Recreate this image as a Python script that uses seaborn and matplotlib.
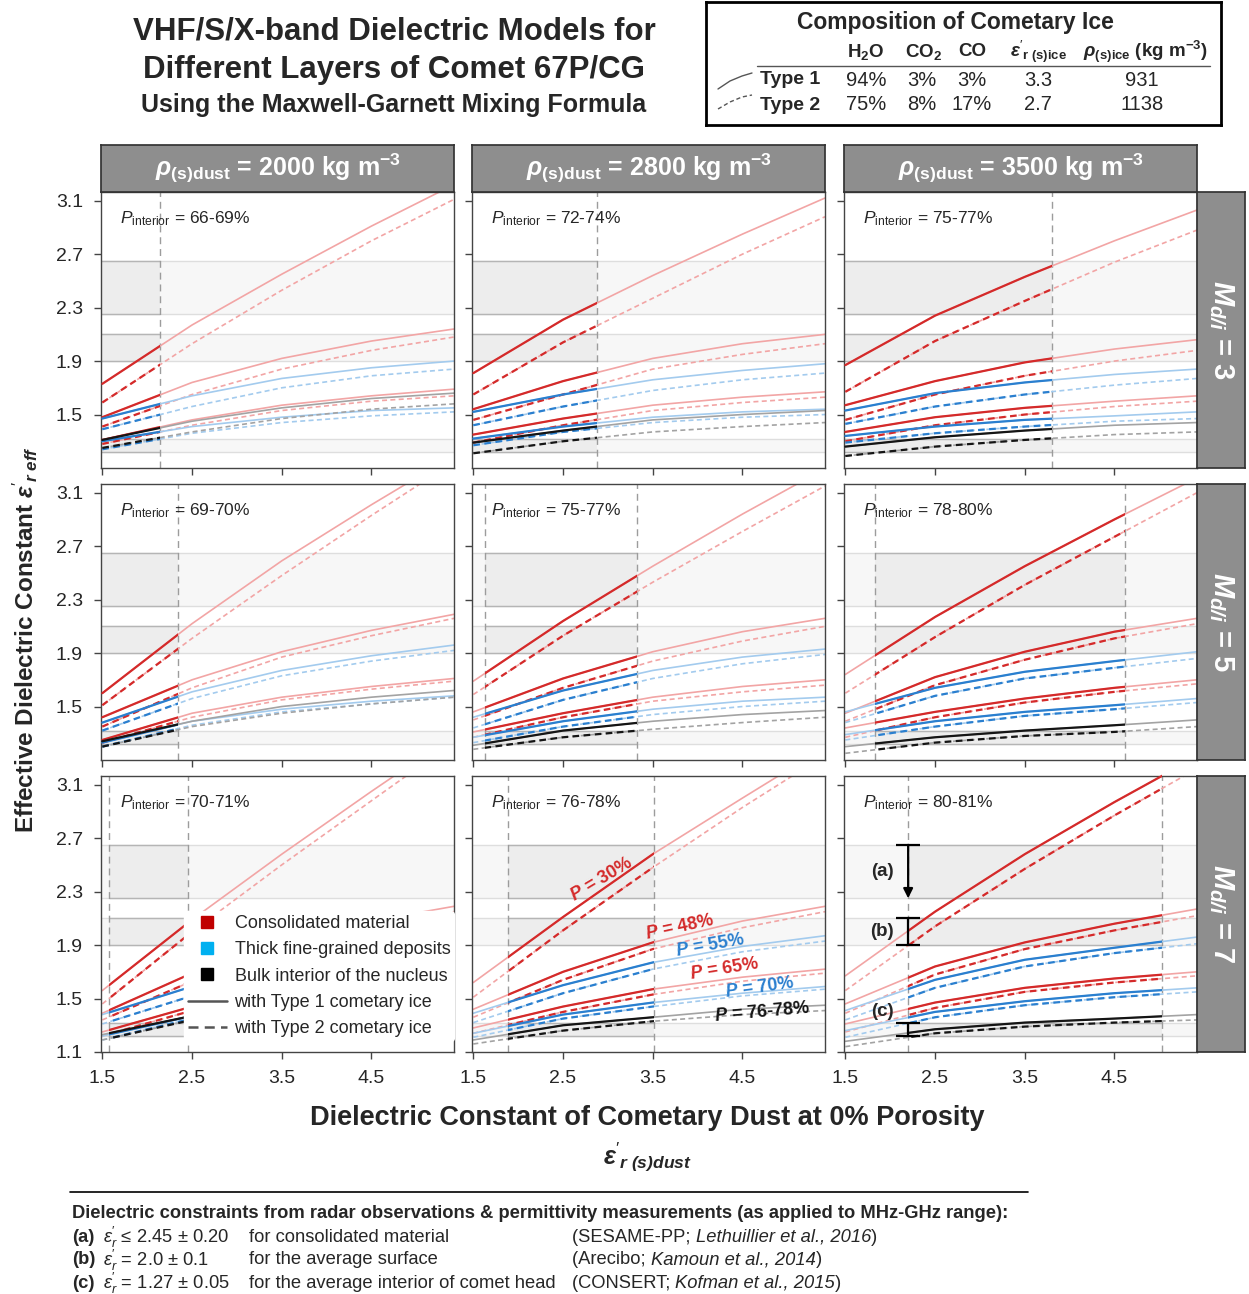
import matplotlib.pyplot as plt
import pandas as pd
import seaborn as sns
from matplotlib.lines import Line2D
from matplotlib.patches import Rectangle

# ---------------- values ----------------
x_dust = [1.5, 2.5, 3.5, 4.5, 5.42]
porosity = ["30", "48", "55", "65", "70", "int"]
ice_types = ["Type 1", "Type 2"]
rho_dust = [2000, 2800, 3500]
mass_ratio = [3, 5, 7]
p_interior = [["66-69%", "72-74%", "75-77%"],
              ["69-70%", "75-77%", "78-80%"],
              ["70-71%", "76-78%", "80-81%"]]
# dust permittivity range allowed in each panel (dashed verticals)
range_lo = [[None, None, None], [None, 1.63, 1.83], [1.57, 1.89, 2.20]]
range_hi = [[2.14, 2.88, 3.80], [2.34, 3.32, 4.62], [2.46, 3.51, 5.03]]

constraint_label = ["(a)", "(b)", "(c)"]
constraint_val = [2.45, 2.0, 1.27]
constraint_err = [0.20, 0.10, 0.05]

# effective permittivity, one row per porosity (30, 48, 55, 65, 70, interior)
t1_m3_r2000 = [[1.73, 2.17, 2.55, 2.91, 3.22], [1.48, 1.74, 1.92, 2.05, 2.14],
               [1.47, 1.64, 1.77, 1.85, 1.90], [1.31, 1.46, 1.57, 1.64, 1.69],
               [1.30, 1.41, 1.48, 1.53, 1.55], [1.31, 1.45, 1.55, 1.62, 1.66]]
t2_m3_r2000 = [[1.59, 2.03, 2.43, 2.80, 3.11], [1.41, 1.65, 1.84, 1.98, 2.08],
               [1.39, 1.56, 1.70, 1.79, 1.84], [1.28, 1.42, 1.53, 1.60, 1.64],
               [1.24, 1.36, 1.44, 1.49, 1.52], [1.25, 1.37, 1.47, 1.54, 1.58]]
t1_m3_r2800 = [[1.81, 2.21, 2.54, 2.85, 3.12], [1.54, 1.75, 1.92, 2.03, 2.10],
               [1.52, 1.65, 1.76, 1.83, 1.88], [1.35, 1.47, 1.57, 1.63, 1.67],
               [1.32, 1.41, 1.48, 1.52, 1.54], [1.29, 1.38, 1.46, 1.50, 1.53]]
t2_m3_r2800 = [[1.65, 2.04, 2.37, 2.70, 2.98], [1.46, 1.65, 1.84, 1.95, 2.03],
               [1.42, 1.56, 1.68, 1.76, 1.81], [1.29, 1.42, 1.53, 1.59, 1.63],
               [1.27, 1.37, 1.44, 1.48, 1.50], [1.21, 1.30, 1.37, 1.41, 1.44]]
t1_m3_r3500 = [[1.87, 2.24, 2.53, 2.80, 3.03], [1.57, 1.75, 1.89, 1.99, 2.06],
               [1.53, 1.66, 1.74, 1.80, 1.84], [1.37, 1.48, 1.55, 1.60, 1.64],
               [1.34, 1.41, 1.46, 1.49, 1.52], [1.26, 1.33, 1.38, 1.42, 1.44]]
t2_m3_r3500 = [[1.67, 2.05, 2.35, 2.64, 2.88], [1.46, 1.65, 1.79, 1.90, 1.98],
               [1.43, 1.56, 1.65, 1.72, 1.77], [1.30, 1.42, 1.50, 1.56, 1.60],
               [1.29, 1.36, 1.41, 1.45, 1.47], [1.19, 1.26, 1.31, 1.35, 1.37]]

t1_m5_r2000 = [[1.60, 2.12, 2.59, 3.01, 3.38], [1.42, 1.70, 1.91, 2.07, 2.19],
               [1.38, 1.61, 1.77, 1.88, 1.96], [1.25, 1.45, 1.57, 1.65, 1.71],
               [1.23, 1.39, 1.48, 1.54, 1.58], [1.24, 1.39, 1.50, 1.57, 1.62]]
t2_m5_r2000 = [[1.51, 2.01, 2.48, 2.93, 3.33], [1.35, 1.64, 1.87, 2.03, 2.16],
               [1.32, 1.56, 1.73, 1.84, 1.92], [1.23, 1.42, 1.55, 1.63, 1.69],
               [1.20, 1.36, 1.46, 1.52, 1.57], [1.20, 1.35, 1.45, 1.52, 1.57]]
t1_m5_r2800 = [[1.69, 2.14, 2.55, 2.94, 3.28], [1.46, 1.71, 1.91, 2.06, 2.16],
               [1.42, 1.62, 1.77, 1.87, 1.93], [1.31, 1.45, 1.57, 1.65, 1.70],
               [1.27, 1.39, 1.48, 1.54, 1.57], [1.21, 1.32, 1.39, 1.44, 1.47]]
t2_m5_r2800 = [[1.59, 2.03, 2.43, 2.81, 3.15], [1.40, 1.64, 1.84, 1.99, 2.10],
               [1.34, 1.55, 1.71, 1.82, 1.89], [1.27, 1.42, 1.54, 1.61, 1.66],
               [1.23, 1.35, 1.44, 1.50, 1.54], [1.18, 1.27, 1.33, 1.38, 1.42]]
t1_m5_r3500 = [[1.74, 2.17, 2.55, 2.90, 3.21], [1.45, 1.72, 1.91, 2.06, 2.16],
               [1.46, 1.64, 1.76, 1.84, 1.91], [1.34, 1.46, 1.56, 1.64, 1.70],
               [1.29, 1.39, 1.46, 1.51, 1.56], [1.20, 1.27, 1.32, 1.36, 1.40]]
t2_m5_r3500 = [[1.60, 2.02, 2.41, 2.77, 3.10], [1.39, 1.66, 1.85, 2.01, 2.12],
               [1.38, 1.58, 1.71, 1.79, 1.86], [1.27, 1.42, 1.53, 1.61, 1.67],
               [1.25, 1.35, 1.43, 1.48, 1.53], [1.15, 1.23, 1.28, 1.31, 1.35]]

t1_m7_r2000 = [[1.56, 2.09, 2.58, 3.05, 3.47], [1.39, 1.69, 1.92, 2.08, 2.19],
               [1.38, 1.59, 1.78, 1.90, 1.98], [1.25, 1.44, 1.58, 1.67, 1.73],
               [1.22, 1.37, 1.48, 1.55, 1.59], [1.23, 1.37, 1.50, 1.58, 1.63]]
t2_m7_r2000 = [[1.46, 2.00, 2.50, 2.98, 3.42], [1.34, 1.63, 1.87, 2.04, 2.15],
               [1.31, 1.52, 1.74, 1.87, 1.95], [1.22, 1.41, 1.55, 1.64, 1.70],
               [1.19, 1.35, 1.46, 1.53, 1.57], [1.19, 1.34, 1.46, 1.53, 1.58]]
t1_m7_r2800 = [[1.62, 2.11, 2.58, 3.00, 3.38], [1.42, 1.70, 1.92, 2.08, 2.19],
               [1.39, 1.60, 1.77, 1.89, 1.97], [1.28, 1.44, 1.57, 1.66, 1.72],
               [1.24, 1.38, 1.47, 1.54, 1.59], [1.19, 1.30, 1.36, 1.42, 1.45]]
t2_m7_r2800 = [[1.51, 2.01, 2.48, 2.93, 3.32], [1.36, 1.64, 1.87, 2.03, 2.15],
               [1.32, 1.54, 1.72, 1.85, 1.93], [1.24, 1.40, 1.53, 1.63, 1.69],
               [1.21, 1.35, 1.44, 1.52, 1.57], [1.16, 1.26, 1.33, 1.38, 1.41]]
t1_m7_r3500 = [[1.67, 2.15, 2.58, 2.97, 3.31], [1.46, 1.74, 1.92, 2.06, 2.17],
               [1.41, 1.64, 1.79, 1.88, 1.96], [1.31, 1.47, 1.58, 1.65, 1.70],
               [1.26, 1.40, 1.48, 1.54, 1.58], [1.18, 1.27, 1.32, 1.35, 1.38]]
t2_m7_r3500 = [[1.56, 2.04, 2.47, 2.87, 3.22], [1.39, 1.68, 1.87, 2.01, 2.12],
               [1.34, 1.58, 1.74, 1.84, 1.91], [1.25, 1.43, 1.55, 1.62, 1.67],
               [1.21, 1.36, 1.45, 1.51, 1.55], [1.14, 1.24, 1.29, 1.32, 1.34]]

# in-panel porosity labels (bottom-middle panel)
p_labels = ["P = 30%", "P = 48%", "P = 55%", "P = 65%", "P = 70%", "P = 76-78%"]
p_label_x = [2.93, 3.80, 4.14, 4.30, 4.69, 4.72]
p_label_y = [2.39, 2.03, 1.90, 1.72, 1.58, 1.40]
p_label_rot = [31, 12, 10, 9, 8, 5]

ice_comp_rows = [["Type 1", "94%", "3%", "3%", "3.3", "931"],
                 ["Type 2", "75%", "8%", "17%", "2.7", "1138"]]

# ---------------- long-form table ----------------
tables_t1 = [[t1_m3_r2000, t1_m3_r2800, t1_m3_r3500],
             [t1_m5_r2000, t1_m5_r2800, t1_m5_r3500],
             [t1_m7_r2000, t1_m7_r2800, t1_m7_r3500]]
tables_t2 = [[t2_m3_r2000, t2_m3_r2800, t2_m3_r3500],
             [t2_m5_r2000, t2_m5_r2800, t2_m5_r3500],
             [t2_m7_r2000, t2_m7_r2800, t2_m7_r3500]]
records = []
for i in range(3):
    for j in range(3):
        for ice, tab in zip(ice_types, [tables_t1[i][j], tables_t2[i][j]]):
            for p, vals in zip(porosity, tab):
                for x, v in zip(x_dust, vals):
                    records.append({"row": i, "col": j, "P": p, "ice": ice, "x": x, "eps": v})
df = pd.DataFrame(records)

# ---------------- style ----------------
sns.set_theme(style="white")
plt.rcParams["font.family"] = ["Liberation Sans", "DejaVu Sans"]
plt.rcParams["mathtext.fontset"] = "custom"
plt.rcParams["mathtext.rm"] = "Liberation Sans"
plt.rcParams["mathtext.it"] = "Liberation Sans:italic"
plt.rcParams["mathtext.bf"] = "Liberation Sans:bold"
plt.rcParams["mathtext.bfit"] = "Liberation Sans:italic:bold"

RED, BLUE, BLACK = "#d42a2a", "#2a7fcf", "#151515"
pal = {"30": RED, "48": RED, "55": BLUE, "65": RED, "70": BLUE, "int": BLACK}
pal_faded = {"30": "#f2a5a5", "48": "#f2a5a5", "55": "#a3cbee", "65": "#f2a5a5",
             "70": "#a3cbee", "int": "#a3a3a3"}
dash_map = {"Type 1": "", "Type 2": (3, 2)}
STRIP = "#8e8e8e"

W, H = 1249, 1294
fig = plt.figure(figsize=(W / 100, H / 100), dpi=100)


def px_rect(left, top, w, h):
    return [left / W, 1 - (top + h) / H, w / W, h / H]


col_left = [101, 472, 844]
row_top = [192, 484, 776]
PW, PH = 353, 276
XL, YL = (1.485, 5.42), (1.1, 3.165)

for i in range(3):
    for j in range(3):
        ax = fig.add_axes(px_rect(col_left[j], row_top[i], PW, PH))
        lo = range_lo[i][j] if range_lo[i][j] is not None else XL[0]
        hi = range_hi[i][j]

        # observational constraint bands
        for v, e in zip(constraint_val, constraint_err):
            ax.axhspan(v - e, v + e, color="#f7f7f7", lw=0, zorder=0)
            ax.fill_between([lo, hi], v - e, v + e, color="#ededed", lw=0, zorder=0.5)
            for edge in (v - e, v + e):
                ax.axhline(edge, color="#dedede", lw=1, zorder=0.6)
                ax.hlines(edge, lo, hi, color="#b5b5b5", lw=1, zorder=0.7)
        for b in (range_lo[i][j], range_hi[i][j]):
            if b is not None:
                ax.axvline(b, color="#9c9c9c", lw=1, ls=(0, (5, 3.5)), zorder=1)

        sub = df[(df["row"] == i) & (df["col"] == j)]
        sns.lineplot(data=sub, x="x", y="eps", hue="P", style="ice", hue_order=porosity,
                     style_order=ice_types, palette=pal_faded, dashes=dash_map,
                     estimator=None, lw=1.2, legend=False, ax=ax, zorder=2)
        n0 = len(ax.lines)
        sns.lineplot(data=sub, x="x", y="eps", hue="P", style="ice", hue_order=porosity,
                     style_order=ice_types, palette=pal, dashes=dash_map,
                     estimator=None, lw=1.6, legend=False, ax=ax, zorder=3)
        clip = Rectangle((lo, 0), hi - lo, 10, transform=ax.transData)
        for ln in ax.lines[n0:]:
            ln.set_clip_path(clip)

        ax.set_xlim(XL)
        ax.set_ylim(YL)
        ax.set_xlabel("")
        ax.set_ylabel("")
        ax.set_xticks([1.5, 2.5, 3.5, 4.5])
        ax.set_yticks([1.1, 1.5, 1.9, 2.3, 2.7, 3.1] if i == 2 else [1.5, 1.9, 2.3, 2.7, 3.1])
        ax.tick_params(direction="out", length=5, width=1, color="#444444",
                       labelsize=14, pad=8, bottom=True, left=True)
        if i < 2:
            ax.set_xticklabels([])
        if j > 0:
            ax.set_yticklabels([])
        for s in ax.spines.values():
            s.set_color("#444444")
            s.set_linewidth(1)

        ax.text(0.055, 0.905, r"$\mathit{P}_{\mathrm{interior}}$ = " + p_interior[i][j],
                transform=ax.transAxes, fontsize=12.5, va="center", zorder=5)

        if i == 2 and j == 1:
            for t, x, y, r, p in zip(p_labels, p_label_x, p_label_y, p_label_rot, porosity):
                ax.text(x, y, r"$\mathbfit{P}$" + t[1:], color=pal[p], fontsize=13,
                        fontweight="bold", rotation=r, rotation_mode="anchor",
                        ha="center", va="center", zorder=6)

        if i == 2 and j == 2:
            xa = range_lo[i][j]
            va, ea = constraint_val[0], constraint_err[0]
            ax.hlines(va + ea, xa - 0.13, xa + 0.13, color="black", lw=1.6, zorder=6)
            ax.annotate("", xy=(xa, va - ea), xytext=(xa, va + ea),
                        arrowprops=dict(arrowstyle="-|>", color="black", lw=1.6,
                                        mutation_scale=14, shrinkA=0, shrinkB=0), zorder=6)
            for v, e in zip(constraint_val[1:], constraint_err[1:]):
                ax.errorbar(xa, v, yerr=e, fmt="none", ecolor="black", elinewidth=1.6,
                            capsize=8.5, capthick=1.6, zorder=6)
            lab_y = [constraint_val[0], constraint_val[1], constraint_val[2] + 0.13]
            for lab, y in zip(constraint_label, lab_y):
                ax.text(1.91, y, lab, fontsize=13.5, fontweight="bold", ha="center",
                        va="center", zorder=6)

        if i == 2 and j == 0:
            handles = [Line2D([], [], marker="s", ls="none", color="#c00000", ms=9),
                       Line2D([], [], marker="s", ls="none", color="#00b0f0", ms=9),
                       Line2D([], [], marker="s", ls="none", color="black", ms=9),
                       Line2D([], [], color="#555555", lw=1.8),
                       Line2D([], [], color="#555555", lw=1.8, ls=(0, (4, 2.5)))]
            labels = ["Consolidated material", "Thick fine-grained deposits",
                      "Bulk interior of the nucleus", "with Type 1 cometary ice",
                      "with Type 2 cometary ice"]
            leg = ax.legend(handles, labels, loc="upper left", bbox_to_anchor=(0.235, 0.51),
                            fontsize=13, frameon=True, facecolor="white", edgecolor="white",
                            framealpha=1, handlelength=2.2, handletextpad=0.4,
                            labelspacing=0.52, borderpad=0.2, borderaxespad=0)
            leg.set_zorder(7)

# strip headers
for j, rho in enumerate(rho_dust):
    sax = fig.add_axes(px_rect(col_left[j], 145, PW, 47))
    sax.set_facecolor(STRIP)
    sax.set_xticks([])
    sax.set_yticks([])
    for s in sax.spines.values():
        s.set_color("#333333")
    sax.text(0.5, 0.5, r"$\mathbfit{\rho}_{\mathbf{(s)dust}}$" + f" = {rho} kg m" + r"$^{\mathbf{-3}}$",
             color="white", fontsize=18, fontweight="bold", ha="center", va="center",
             transform=sax.transAxes)
for i, m in enumerate(mass_ratio):
    sax = fig.add_axes(px_rect(1197, row_top[i], 48, PH))
    sax.set_facecolor(STRIP)
    sax.set_xticks([])
    sax.set_yticks([])
    for s in sax.spines.values():
        s.set_color("#333333")
    sax.text(0.5, 0.5, r"$\mathbfit{M}_{\mathbfit{d/i}}$" + f" = {m}", color="white",
             fontsize=21, fontweight="bold", ha="center", va="center", rotation=270,
             transform=sax.transAxes)

# titles
fig.text(394 / W, 1 - 32 / H, "VHF/S/X-band Dielectric Models for", fontsize=22.5,
         fontweight="bold", ha="center", va="center")
fig.text(394 / W, 1 - 70 / H, "Different Layers of Comet 67P/CG", fontsize=22.5,
         fontweight="bold", ha="center", va="center")
fig.text(394 / W, 1 - 105 / H, "Using the Maxwell-Garnett Mixing Formula", fontsize=18,
         fontweight="bold", ha="center", va="center")

# axis labels
fig.text(25 / W, 1 - 640 / H, "Effective Dielectric Constant " +
         r"$\mathbfit{\varepsilon}'_{\mathbfit{r\ eff}}$", fontsize=17.5, fontweight="bold",
         rotation=90, ha="center", va="center")
fig.text(647 / W, 1 - 1118 / H, "Dielectric Constant of Cometary Dust at 0% Porosity",
         fontsize=19.5, fontweight="bold", ha="center", va="center")
fig.text(648 / W, 1 - 1157 / H, r"$\mathbfit{\varepsilon}'_{\mathbfit{r\ (s)dust}}$",
         fontsize=18, ha="center", va="center")

# composition table
tax = fig.add_axes(px_rect(706, 2, 515, 123))
tax.set_xticks([])
tax.set_yticks([])
tax.set_facecolor("white")
for s in tax.spines.values():
    s.set_color("black")
    s.set_linewidth(2)
fig.text(955 / W, 1 - 23 / H, "Composition of Cometary Ice", fontsize=16.5,
         fontweight="bold", ha="center", va="center")
head_x = [866, 924, 972, 1038, 1145]
heads = [r"H$_{\mathbf{2}}$O", r"CO$_{\mathbf{2}}$", "CO",
         r"$\mathbfit{\varepsilon}'_{\mathbf{r\ (s)ice}}$",
         r"$\mathbfit{\rho}_{\mathbf{(s)ice}}$ (kg m$^{\mathbf{-3}}$)"]
for hx, ht in zip(head_x, heads):
    fig.text(hx / W, 1 - 52 / H, ht, fontsize=13.5, fontweight="bold", ha="center", va="center")
fig.add_artist(Line2D([757 / W, 1210 / W], [1 - 66 / H, 1 - 66 / H], color="#555555", lw=1))
cell_x = [866, 922, 972, 1038, 1142]
for ry, rowvals in zip([80, 105], ice_comp_rows):
    fig.text(760 / W, 1 - ry / H, rowvals[0], fontsize=14, fontweight="bold", va="center")
    for cx, cv in zip(cell_x, rowvals[1:]):
        fig.text(cx / W, 1 - ry / H, cv, fontsize=14.5, ha="center", va="center")
fig.add_artist(Line2D([718 / W, 730 / W, 742 / W, 752 / W],
                      [1 - 89 / H, 1 - 81 / H, 1 - 76 / H, 1 - 73 / H], color="#555555", lw=1))
fig.add_artist(Line2D([718 / W, 730 / W, 742 / W, 752 / W],
                      [1 - 109 / H, 1 - 102 / H, 1 - 97 / H, 1 - 95 / H], color="#555555",
                      lw=1, ls=(0, (3, 2))))

# footnote block
FN = 13.2
fig.add_artist(Line2D([70 / W, 1028 / W], [1 - 1192 / H, 1 - 1192 / H], color="black", lw=1.2))
fig.text(72 / W, 1 - 1213 / H, "Dielectric constraints from radar observations & permittivity "
         "measurements (as applied to MHz-GHz range):", fontsize=FN, fontweight="bold",
         va="center")
exprs = [r"$\varepsilon_r'$ ≤ 2.45 ± 0.20", r"$\varepsilon_r'$ = 2.0 ± 0.1",
         r"$\varepsilon_r'$ = 1.27 ± 0.05"]
descr = ["for consolidated material", "for the average surface",
         "for the average interior of comet head"]
refs = [("(SESAME-PP; ", "Lethuillier et al., 2016"), ("(Arecibo; ", "Kamoun et al., 2014"),
        ("(CONSERT; ", "Kofman et al., 2015")]
renderer = fig.canvas.get_renderer()
for k, yy in enumerate([1237, 1260, 1283]):
    yf = 1 - yy / H
    fig.text(72 / W, yf, constraint_label[k], fontsize=FN, fontweight="bold", va="center")
    fig.text(103 / W, yf, exprs[k], fontsize=FN, va="center")
    fig.text(249 / W, yf, descr[k], fontsize=FN, va="center")
    xx = 572 / W
    for txt, style in [(refs[k][0], "normal"), (refs[k][1], "italic"), (")", "normal")]:
        t = fig.text(xx, yf, txt, fontsize=FN, style=style, va="center")
        xx += t.get_window_extent(renderer).width / fig.bbox.width

fig.savefig("out.png", dpi=100, facecolor="white")
